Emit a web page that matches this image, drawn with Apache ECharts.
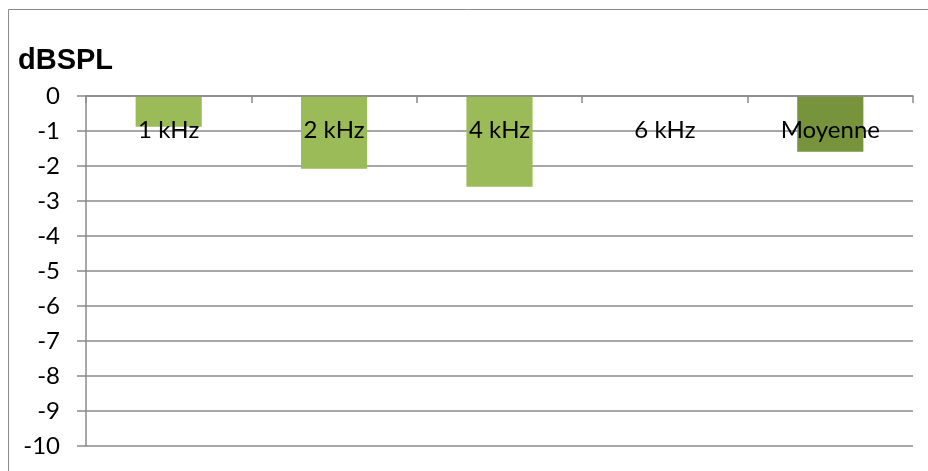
<!DOCTYPE html>
<html>
<head>
<meta charset="utf-8">
<script src="https://cdn.jsdelivr.net/npm/echarts@6/dist/echarts.min.js"></script>
<style>
    html, body { margin: 0; padding: 0; background: #fff; }
    #chart { width: 928px; height: 471px; }
</style>
</head>
<body>
<div id="chart"></div>
<script>
'use strict';

var categories = ['1 kHz', '2 kHz', '4 kHz', '6 kHz', 'Moyenne'];
var values = [-0.88, -2.08, -2.59, 0, -1.59];
var barColors = ['#9BBB59', '#9BBB59', '#9BBB59', '#9BBB59', '#77933C'];
var yTicks = [0, -1, -2, -3, -4, -5, -6, -7, -8, -9, -10];

var gridColor = '#8a8a8a';
var labelFont = 'Lato, "Open Sans", sans-serif';

var chart = echarts.init(document.getElementById('chart'));

var option = {
    animation: false,
    backgroundColor: '#fff',
    title: {
        text: 'dBSPL',
        left: 13,
        top: 41,
        textStyle: {
            fontFamily: '"Liberation Sans", Arial, sans-serif',
            fontWeight: 'bold',
            fontSize: 29,
            color: '#000'
        }
    },
    graphic: [{
        type: 'rect',
        shape: { x: 8.5, y: 9.5, width: 1000, height: 1000 },
        style: { fill: 'none', stroke: gridColor, lineWidth: 1 },
        silent: true
    }],
    grid: {
        left: 86,
        right: 15,
        top: 96,
        bottom: 25,
        outerBoundsMode: 'none'
    },
    xAxis: {
        type: 'category',
        data: categories,
        position: 'top',
        z: 5,
        axisLine: { lineStyle: { color: gridColor, width: 1.5 } },
        axisTick: { show: true, inside: true, length: 7, lineStyle: { color: gridColor, width: 1.5 } },
        axisLabel: {
            inside: true,
            margin: 22,
            color: '#000',
            fontFamily: labelFont,
            fontSize: 24
        },
        splitLine: { show: false }
    },
    yAxis: {
        type: 'value',
        min: -10,
        max: 0,
        interval: 1,
        axisLine: { show: true, lineStyle: { color: gridColor, width: 1.5 } },
        axisTick: { show: true, length: 9, lineStyle: { color: gridColor, width: 1.5 } },
        axisLabel: {
            margin: 26,
            color: '#000',
            fontFamily: labelFont,
            fontSize: 24,
            formatter: function (v) {
                return yTicks.indexOf(v) >= 0 ? String(v) : '';
            }
        },
        splitLine: { show: true, lineStyle: { color: gridColor, width: 1.5 } }
    },
    series: [{
        type: 'bar',
        barWidth: '40%',
        data: values.map(function (v, i) {
            return { value: v, itemStyle: { color: barColors[i] } };
        })
    }]
};

chart.setOption(option);
</script>
</body>
</html>
